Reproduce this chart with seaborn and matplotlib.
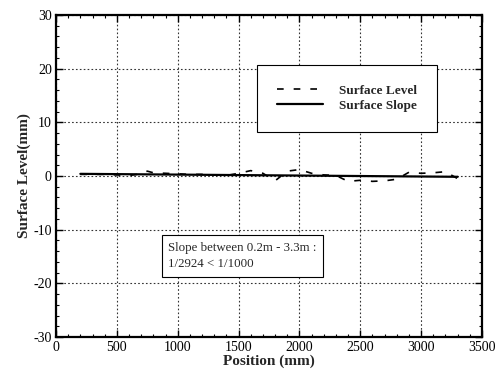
import matplotlib
matplotlib.use("Agg")
import matplotlib.pyplot as plt
from matplotlib.ticker import MultipleLocator
import seaborn as sns
import pandas as pd

# Data
level_pos = [200, 300, 400, 500, 600, 700, 750, 800, 900, 1000, 1100, 1200, 1300,
             1400, 1500, 1600, 1700, 1800, 1900, 2000, 2100, 2200, 2300, 2400,
             2500, 2600, 2700, 2800, 2900, 3000, 3100, 3200, 3300]
level_val = [0.3, 0.3, 0.3, 0.2, 0.1, 0.4, 0.9, 0.6, 0.5, 0.4, 0.3, 0.3, 0.2,
             0.1, 0.5, 1.0, 0.5, -0.9, 0.9, 1.2, 0.5, 0.2, 0.1, -1.0,
             -0.8, -1.0, -0.9, -0.6, 0.7, 0.5, 0.6, 0.8, -0.5]
slope_pos = [200, 3300]
slope_val = [0.4, -0.15]

x_ticks = [0, 500, 1000, 1500, 2000, 2500, 3000, 3500]
y_ticks = [-30, -20, -10, 0, 10, 20, 30]

sns.set_style("ticks")
plt.rcParams['font.family'] = ['Liberation Serif', 'DejaVu Serif']
plt.rcParams['axes.unicode_minus'] = False

fig = plt.figure(figsize=(4.97, 3.70), dpi=100)
ax = fig.add_axes([0.1127, 0.0892, 0.9698 - 0.1127, 0.9595 - 0.0892])

df_level = pd.DataFrame({"Position": level_pos, "Value": level_val})
df_slope = pd.DataFrame({"Position": slope_pos, "Value": slope_val})

sns.lineplot(data=df_level, x="Position", y="Value", ax=ax, color="black",
             linewidth=1.2, linestyle=(0, (4, 6)), label="Surface Level")
sns.lineplot(data=df_slope, x="Position", y="Value", ax=ax, color="black",
             linewidth=1.6, label="Surface Slope")

ax.set_xlim(0, 3500)
ax.set_ylim(-30, 30)
ax.set_xticks(x_ticks)
ax.set_yticks(y_ticks)
ax.xaxis.set_minor_locator(MultipleLocator(100))
ax.yaxis.set_minor_locator(MultipleLocator(2))
ax.tick_params(which="both", direction="in", top=True, right=True, labelsize=10,
               colors="black", pad=3)
ax.tick_params(which="major", length=5, width=1)
ax.tick_params(which="minor", length=2.5, width=0.8)
ax.grid(True, which="major", color="#333333", linestyle=(0, (1.5, 2)), linewidth=0.8)
ax.set_axisbelow(True)
for s in ax.spines.values():
    s.set_linewidth(1.6)
    s.set_color("black")

ax.set_xlabel("Position (mm)", fontsize=11, fontweight="bold", labelpad=0)
ax.set_ylabel("Surface Level(mm)", fontsize=11, fontweight="bold", labelpad=2)

leg = ax.legend(loc="upper left", bbox_to_anchor=((257 - 56) / 426, (337 - 65) / 322),
                frameon=True, fancybox=False, framealpha=1, edgecolor="black",
                prop={"family": "Liberation Serif", "weight": "bold", "size": 9.5},
                handlelength=3.5, borderpad=1.5, labelspacing=0.2, handletextpad=1.2,
                borderaxespad=0)
leg.get_frame().set_linewidth(0.8)

ax.text((168 - 56) / 426 * 3500, (176 - 256) / 5.367,
        "Slope between 0.2m - 3.3m :\n1/2924 < 1/1000",
        fontsize=9.3, va="center", ha="left", linespacing=1.5,
        bbox=dict(boxstyle="square,pad=0.5", facecolor="white", edgecolor="black", linewidth=0.8))

fig.savefig("out.png", dpi=100)
